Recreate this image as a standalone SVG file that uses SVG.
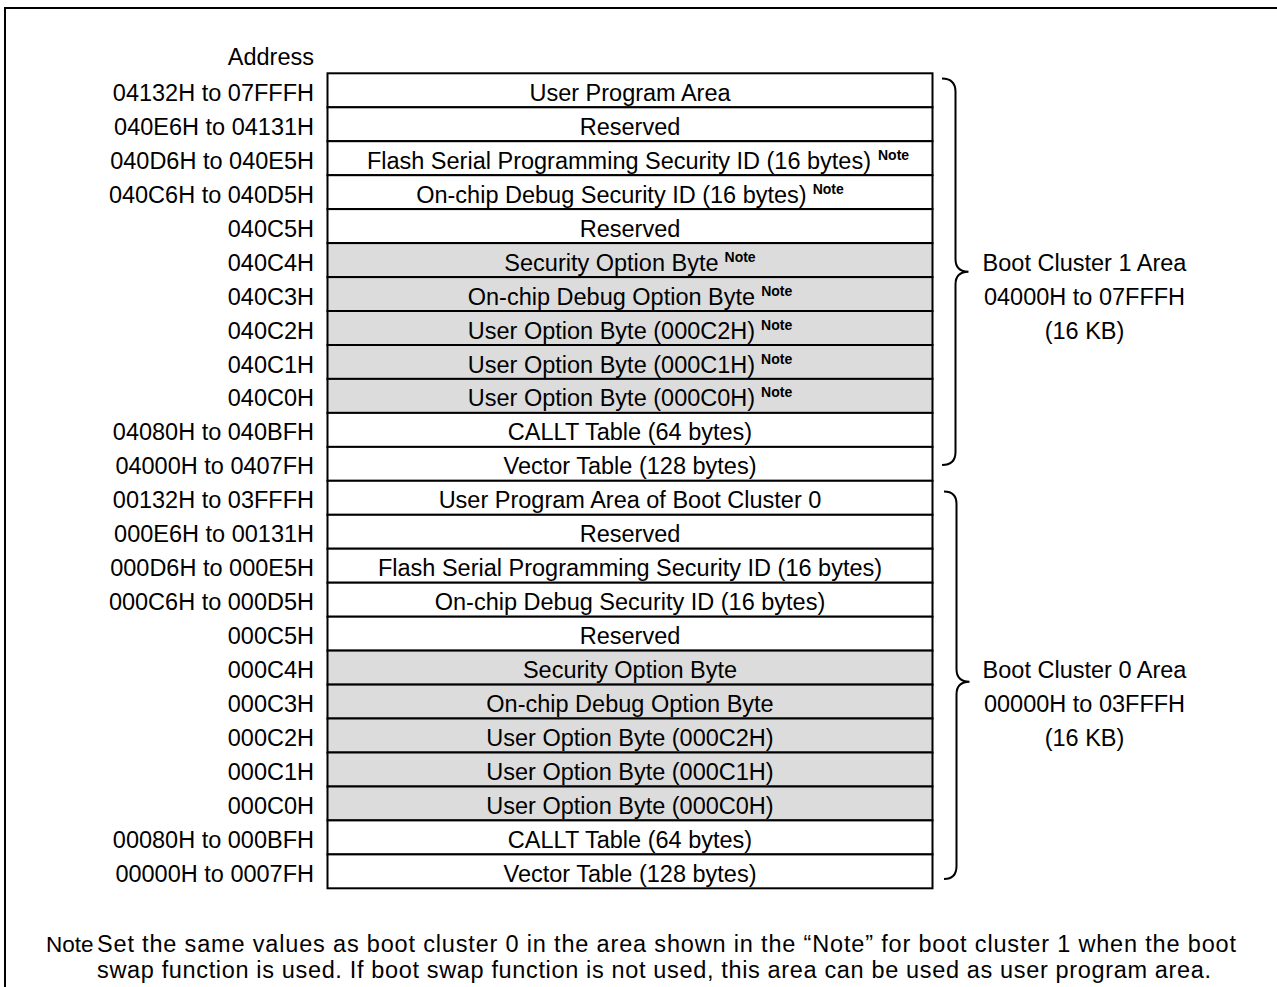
<svg xmlns="http://www.w3.org/2000/svg" width="1277" height="987" viewBox="0 0 1277 987">
<style>
text{font-family:"Liberation Sans",Arial,sans-serif;font-size:23.5px;fill:#000}
.lbl{text-anchor:end}
.cell{text-anchor:middle}
.sup{font-size:14px;font-weight:bold}
.w{fill:#fff;stroke:#000;stroke-width:2}
.g{fill:#dcdcdc;stroke:#000;stroke-width:2}
.brace{fill:none;stroke:#000;stroke-width:2}
.side{text-anchor:middle}
.note{font-size:23.5px}
.notehead{font-size:22.5px}
</style>
<rect x="5" y="8" width="1290" height="1000" fill="#fff" stroke="#000" stroke-width="2"/>
<text x="314" y="65" class="lbl">Address</text>
<g id="row00"><rect class="w" x="327.5" y="73.3" width="605" height="34"/><text class="lbl" x="314" y="100.8">04132H to 07FFFH</text><text class="cell" x="630" y="100.8">User Program Area</text></g>
<g id="row01"><rect class="w" x="327.5" y="107.3" width="605" height="33.9"/><text class="lbl" x="314" y="134.8">040E6H to 04131H</text><text class="cell" x="630" y="134.8">Reserved</text></g>
<g id="row02"><rect class="w" x="327.5" y="141.2" width="605" height="34"/><text class="lbl" x="314" y="168.7">040D6H to 040E5H</text><text class="cell" x="638" y="168.7">Flash Serial Programming Security ID (16 bytes)<tspan class="sup" dx="7" dy="-9">Note</tspan></text></g>
<g id="row03"><rect class="w" x="327.5" y="175.2" width="605" height="33.9"/><text class="lbl" x="314" y="202.7">040C6H to 040D5H</text><text class="cell" x="630" y="202.7">On-chip Debug Security ID (16 bytes)<tspan class="sup" dx="6" dy="-9">Note</tspan></text></g>
<g id="row04"><rect class="w" x="327.5" y="209.1" width="605" height="34"/><text class="lbl" x="314" y="236.6">040C5H</text><text class="cell" x="630" y="236.6">Reserved</text></g>
<g id="row05"><rect class="g" x="327.5" y="243.1" width="605" height="34"/><text class="lbl" x="314" y="270.6">040C4H</text><text class="cell" x="630" y="270.6">Security Option Byte<tspan class="sup" dx="6" dy="-9">Note</tspan></text></g>
<g id="row06"><rect class="g" x="327.5" y="277.1" width="605" height="33.9"/><text class="lbl" x="314" y="304.6">040C3H</text><text class="cell" x="630" y="304.6">On-chip Debug Option Byte<tspan class="sup" dx="6" dy="-9">Note</tspan></text></g>
<g id="row07"><rect class="g" x="327.5" y="311" width="605" height="34"/><text class="lbl" x="314" y="338.5">040C2H</text><text class="cell" x="630" y="338.5">User Option Byte (000C2H)<tspan class="sup" dx="6" dy="-9">Note</tspan></text></g>
<g id="row08"><rect class="g" x="327.5" y="345" width="605" height="33.9"/><text class="lbl" x="314" y="372.5">040C1H</text><text class="cell" x="630" y="372.5">User Option Byte (000C1H)<tspan class="sup" dx="6" dy="-9">Note</tspan></text></g>
<g id="row09"><rect class="g" x="327.5" y="378.9" width="605" height="34"/><text class="lbl" x="314" y="406.4">040C0H</text><text class="cell" x="630" y="406.4">User Option Byte (000C0H)<tspan class="sup" dx="6" dy="-9">Note</tspan></text></g>
<g id="row10"><rect class="w" x="327.5" y="412.9" width="605" height="34"/><text class="lbl" x="314" y="440.4">04080H to 040BFH</text><text class="cell" x="630" y="440.4">CALLT Table (64 bytes)</text></g>
<g id="row11"><rect class="w" x="327.5" y="446.9" width="605" height="33.9"/><text class="lbl" x="314" y="474.4">04000H to 0407FH</text><text class="cell" x="630" y="474.4">Vector Table (128 bytes)</text></g>
<g id="row12"><rect class="w" x="327.5" y="480.8" width="605" height="34"/><text class="lbl" x="314" y="508.3">00132H to 03FFFH</text><text class="cell" x="630" y="508.3">User Program Area of Boot Cluster 0</text></g>
<g id="row13"><rect class="w" x="327.5" y="514.8" width="605" height="33.9"/><text class="lbl" x="314" y="542.3">000E6H to 00131H</text><text class="cell" x="630" y="542.3">Reserved</text></g>
<g id="row14"><rect class="w" x="327.5" y="548.7" width="605" height="34"/><text class="lbl" x="314" y="576.2">000D6H to 000E5H</text><text class="cell" x="630" y="576.2">Flash Serial Programming Security ID (16 bytes)</text></g>
<g id="row15"><rect class="w" x="327.5" y="582.7" width="605" height="34"/><text class="lbl" x="314" y="610.2">000C6H to 000D5H</text><text class="cell" x="630" y="610.2">On-chip Debug Security ID (16 bytes)</text></g>
<g id="row16"><rect class="w" x="327.5" y="616.7" width="605" height="33.9"/><text class="lbl" x="314" y="644.2">000C5H</text><text class="cell" x="630" y="644.2">Reserved</text></g>
<g id="row17"><rect class="g" x="327.5" y="650.6" width="605" height="34"/><text class="lbl" x="314" y="678.1">000C4H</text><text class="cell" x="630" y="678.1">Security Option Byte</text></g>
<g id="row18"><rect class="g" x="327.5" y="684.6" width="605" height="33.9"/><text class="lbl" x="314" y="712.1">000C3H</text><text class="cell" x="630" y="712.1">On-chip Debug Option Byte</text></g>
<g id="row19"><rect class="g" x="327.5" y="718.5" width="605" height="34"/><text class="lbl" x="314" y="746">000C2H</text><text class="cell" x="630" y="746">User Option Byte (000C2H)</text></g>
<g id="row20"><rect class="g" x="327.5" y="752.5" width="605" height="34"/><text class="lbl" x="314" y="780">000C1H</text><text class="cell" x="630" y="780">User Option Byte (000C1H)</text></g>
<g id="row21"><rect class="g" x="327.5" y="786.5" width="605" height="33.9"/><text class="lbl" x="314" y="814">000C0H</text><text class="cell" x="630" y="814">User Option Byte (000C0H)</text></g>
<g id="row22"><rect class="w" x="327.5" y="820.4" width="605" height="34"/><text class="lbl" x="314" y="847.9">00080H to 000BFH</text><text class="cell" x="630" y="847.9">CALLT Table (64 bytes)</text></g>
<g id="row23"><rect class="w" x="327.5" y="854.4" width="605" height="33.9"/><text class="lbl" x="314" y="881.9">00000H to 0007FH</text><text class="cell" x="630" y="881.9">Vector Table (128 bytes)</text></g>
<g id="connectors">
<path class="brace" d="M942 78.5 Q955.5 78.5 955.5 92 V259 Q955.5 271.7 968.5 271.7 Q955.5 271.7 955.5 284.5 V452 Q955.5 465 942 465"/>
<path class="brace" d="M944 491.5 Q956.5 491.5 956.5 504 V669 Q956.5 681.7 969.5 681.7 Q956.5 681.7 956.5 694.5 V866 Q956.5 879 944 879"/>
</g>
<g id="cluster1"><text class="side" x="1084.5" y="270.6">Boot Cluster 1 Area</text><text class="side" x="1084.5" y="304.6">04000H to 07FFFH</text><text class="side" x="1084.5" y="338.5">(16 KB)</text></g>
<g id="cluster0"><text class="side" x="1084.5" y="678.1">Boot Cluster 0 Area</text><text class="side" x="1084.5" y="712.1">00000H to 03FFFH</text><text class="side" x="1084.5" y="746">(16 KB)</text></g>
<g id="footnote">
<text class="notehead" x="46" y="952">Note</text>
<text class="note" x="97" y="952" textLength="1139" lengthAdjust="spacing">Set the same values as boot cluster 0 in the area shown in the “Note” for boot cluster 1 when the boot</text>
<text class="note" x="97" y="978" textLength="1114" lengthAdjust="spacing">swap function is used. If boot swap function is not used, this area can be used as user program area.</text>
</g>
</svg>
